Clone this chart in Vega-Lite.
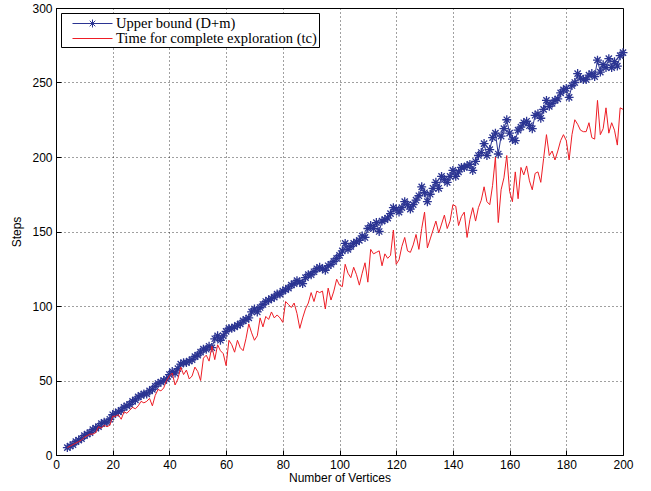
{
  "$schema": "https://vega.github.io/schema/vega-lite/v6.json",
  "width": 567,
  "height": 447,
  "autosize": {"type": "none"},
  "padding": {"left": 56, "top": 8, "right": 28, "bottom": 36},
  "background": "white",
  "config": {
    "view": {"stroke": "black", "strokeWidth": 1},
    "axis": {"labelFont": "Liberation Sans", "titleFont": "Liberation Sans", "labelFontSize": 12, "titleFontSize": 12, "titleFontWeight": "normal", "labelColor": "black", "titleColor": "black", "domainColor": "black", "tickColor": "black", "labelFlush": false, "labelOverlap": false}
  },
  "data": {"values": [
{"n":4,"ub":5,"tc":5},{"n":5,"ub":6,"tc":6},{"n":6,"ub":7,"tc":7},{"n":7,"ub":9,"tc":8},{"n":8,"ub":10,"tc":9},{"n":9,"ub":11,"tc":10},{"n":10,"ub":13,"tc":12},{"n":11,"ub":14,"tc":13},{"n":12,"ub":15,"tc":14},{"n":13,"ub":17,"tc":14},{"n":14,"ub":18,"tc":15},{"n":15,"ub":19,"tc":19},{"n":16,"ub":21,"tc":18},{"n":17,"ub":22,"tc":20},{"n":18,"ub":22,"tc":19},{"n":19,"ub":24,"tc":20},{"n":20,"ub":27,"tc":26},{"n":21,"ub":28,"tc":26},{"n":22,"ub":29,"tc":27},{"n":23,"ub":30,"tc":24},{"n":24,"ub":32,"tc":29},{"n":25,"ub":33,"tc":28},{"n":26,"ub":34,"tc":30},{"n":27,"ub":36,"tc":32},{"n":28,"ub":37,"tc":31},{"n":29,"ub":39,"tc":33},{"n":30,"ub":40,"tc":36},{"n":31,"ub":41,"tc":35},{"n":32,"ub":41,"tc":36},{"n":33,"ub":43,"tc":38},{"n":34,"ub":44,"tc":33},{"n":35,"ub":46,"tc":40},{"n":36,"ub":48,"tc":44},{"n":37,"ub":49,"tc":43},{"n":38,"ub":50,"tc":45},{"n":39,"ub":51,"tc":50},
{"n":40,"ub":54,"tc":53},{"n":41,"ub":56,"tc":55},{"n":42,"ub":55,"tc":47},{"n":43,"ub":58,"tc":51},{"n":44,"ub":61,"tc":59},{"n":45,"ub":62,"tc":54},{"n":46,"ub":62,"tc":57},{"n":47,"ub":63,"tc":51},{"n":48,"ub":64,"tc":53},{"n":49,"ub":66,"tc":59},{"n":50,"ub":67,"tc":56},{"n":51,"ub":69,"tc":50},{"n":52,"ub":71,"tc":65},{"n":53,"ub":71,"tc":67},{"n":54,"ub":73,"tc":63},{"n":55,"ub":72,"tc":73},{"n":56,"ub":78,"tc":64},{"n":57,"ub":80,"tc":74},{"n":58,"ub":77,"tc":70},{"n":59,"ub":80,"tc":68},{"n":60,"ub":83,"tc":60},{"n":61,"ub":85,"tc":77},{"n":62,"ub":85,"tc":74},{"n":63,"ub":86,"tc":69},{"n":64,"ub":87,"tc":77},{"n":65,"ub":88,"tc":72},{"n":66,"ub":90,"tc":70},{"n":67,"ub":91,"tc":78},{"n":68,"ub":92,"tc":88},{"n":69,"ub":96,"tc":82},{"n":70,"ub":98,"tc":77},{"n":71,"ub":96,"tc":80},{"n":72,"ub":99,"tc":92},{"n":73,"ub":101,"tc":86},{"n":74,"ub":103,"tc":93},{"n":75,"ub":104,"tc":91},{"n":76,"ub":105,"tc":96},{"n":77,"ub":106,"tc":92},{"n":78,"ub":108,"tc":94},{"n":79,"ub":108,"tc":92},
{"n":80,"ub":110,"tc":89},{"n":81,"ub":111,"tc":103},{"n":82,"ub":112,"tc":101},{"n":83,"ub":114,"tc":99},{"n":84,"ub":115,"tc":102},{"n":85,"ub":117,"tc":95},{"n":86,"ub":116,"tc":85},{"n":87,"ub":115,"tc":92},{"n":88,"ub":119,"tc":98},{"n":89,"ub":121,"tc":102},{"n":90,"ub":121,"tc":109},{"n":91,"ub":123,"tc":103},{"n":92,"ub":125,"tc":110},{"n":93,"ub":126,"tc":109},{"n":94,"ub":125,"tc":110},{"n":95,"ub":124,"tc":98},{"n":96,"ub":127,"tc":112},{"n":97,"ub":128,"tc":104},{"n":98,"ub":130,"tc":110},{"n":99,"ub":132,"tc":118},{"n":100,"ub":134,"tc":114},{"n":101,"ub":137,"tc":113},{"n":102,"ub":142,"tc":128},{"n":103,"ub":138,"tc":122},{"n":104,"ub":140,"tc":119},{"n":105,"ub":142,"tc":126},{"n":106,"ub":143,"tc":121},{"n":107,"ub":144,"tc":114},{"n":108,"ub":147,"tc":122},{"n":109,"ub":146,"tc":129},{"n":110,"ub":152,"tc":116},{"n":111,"ub":154,"tc":138},{"n":112,"ub":152,"tc":135},{"n":113,"ub":156,"tc":136},{"n":114,"ub":150,"tc":137},{"n":115,"ub":157,"tc":127},{"n":116,"ub":158,"tc":135},{"n":117,"ub":159,"tc":132},{"n":118,"ub":162,"tc":134},{"n":119,"ub":166,"tc":151},
{"n":120,"ub":165,"tc":128},{"n":121,"ub":163,"tc":131},{"n":122,"ub":166,"tc":140},{"n":123,"ub":170,"tc":146},{"n":124,"ub":168,"tc":137},{"n":125,"ub":165,"tc":136},{"n":126,"ub":168,"tc":141},{"n":127,"ub":171,"tc":148},{"n":128,"ub":174,"tc":138},{"n":129,"ub":180,"tc":152},{"n":130,"ub":176,"tc":163},{"n":131,"ub":170,"tc":139},{"n":132,"ub":175,"tc":145},{"n":133,"ub":179,"tc":151},{"n":134,"ub":183,"tc":157},{"n":135,"ub":179,"tc":149},{"n":136,"ub":187,"tc":155},{"n":137,"ub":185,"tc":161},{"n":138,"ub":183,"tc":152},{"n":139,"ub":187,"tc":157},{"n":140,"ub":191,"tc":168},{"n":141,"ub":187,"tc":167},{"n":142,"ub":190,"tc":154},{"n":143,"ub":193,"tc":160},{"n":144,"ub":193,"tc":163},{"n":145,"ub":194,"tc":146},{"n":146,"ub":195,"tc":158},{"n":147,"ub":191,"tc":166},{"n":148,"ub":197,"tc":157},{"n":149,"ub":201,"tc":166},{"n":150,"ub":203,"tc":171},{"n":151,"ub":209,"tc":180},{"n":152,"ub":201,"tc":170},{"n":153,"ub":205,"tc":168},{"n":154,"ub":213,"tc":181},{"n":155,"ub":216,"tc":200},{"n":156,"ub":202,"tc":156},{"n":157,"ub":214,"tc":178},{"n":158,"ub":219,"tc":186},{"n":159,"ub":225,"tc":201},
{"n":160,"ub":216,"tc":177},{"n":161,"ub":212,"tc":170},{"n":162,"ub":211,"tc":190},{"n":163,"ub":218,"tc":172},{"n":164,"ub":220,"tc":193},{"n":165,"ub":223,"tc":188},{"n":166,"ub":224,"tc":194},{"n":167,"ub":221,"tc":184},{"n":168,"ub":219,"tc":178},{"n":169,"ub":228,"tc":189},{"n":170,"ub":229,"tc":190},{"n":171,"ub":226,"tc":183},{"n":172,"ub":232,"tc":199},{"n":173,"ub":238,"tc":215},{"n":174,"ub":234,"tc":201},{"n":175,"ub":236,"tc":204},{"n":176,"ub":238,"tc":198},{"n":177,"ub":239,"tc":204},{"n":178,"ub":243,"tc":211},{"n":179,"ub":245,"tc":215},{"n":180,"ub":246,"tc":211},{"n":181,"ub":240,"tc":198},{"n":182,"ub":248,"tc":215},{"n":183,"ub":250,"tc":225},{"n":184,"ub":256,"tc":222},{"n":185,"ub":253,"tc":218},{"n":186,"ub":252,"tc":217},{"n":187,"ub":252,"tc":217},{"n":188,"ub":255,"tc":223},{"n":189,"ub":256,"tc":213},{"n":190,"ub":254,"tc":212},{"n":191,"ub":265,"tc":238},{"n":192,"ub":257,"tc":215},{"n":193,"ub":262,"tc":219},{"n":194,"ub":260,"tc":233},{"n":195,"ub":266,"tc":216},{"n":196,"ub":260,"tc":223},{"n":197,"ub":264,"tc":218},{"n":198,"ub":261,"tc":208},{"n":199,"ub":268,"tc":233},{"n":200,"ub":270,"tc":232}
  ]},
  "transform": [{"fold": ["ub", "tc"], "as": ["series", "steps"]}],
  "encoding": {
    "x": {"field": "n", "type": "quantitative", "scale": {"domain": [0, 200], "nice": false, "zero": false},
      "axis": {"title": "Number of Vertices", "values": [0,20,40,60,80,100,120,140,160,180,200], "tickSize": -5, "labelPadding": 9, "titlePadding": 2, "grid": true, "gridDash": [1, 3], "gridColor": "black", "gridOpacity": 0.75, "domain": true}},
    "y": {"field": "steps", "type": "quantitative", "scale": {"domain": [0, 300], "nice": false},
      "axis": {"title": "Steps", "values": [0,50,100,150,200,250,300], "tickSize": -5, "labelPadding": 9, "titlePadding": 8, "grid": true, "gridDash": [1, 3], "gridColor": "black", "gridOpacity": 0.75}},
    "color": {"field": "series", "type": "nominal",
      "scale": {"domain": ["ub", "tc"], "range": ["#2B3492", "#EE1D25"]},
      "legend": {"title": null, "orient": "top-left", "offset": 5, "padding": 2, "rowPadding": 0,
        "strokeColor": "black", "fillColor": "white", "cornerRadius": 0,
        "labelFont": "Liberation Serif", "labelFontSize": 14.5, "labelColor": "black", "labelOffset": 15, "labelLimit": 400,
        "symbolSize": 256, "symbolOffset": 21, "symbolStrokeWidth": 1, "symbolType": "stroke",
        "labelExpr": "datum.value == 'ub' ? 'Upper bound (D+m)' : 'Time for complete exploration (tc)'",
        "encode": {"symbols": {"update": {"shape": {"signal": "datum.value == 'ub' ? 'M-2.5,0L2.5,0M0,-0.5L0,0.5M-0.5,0L0.5,0M-0.35,-0.35L0.35,0.35M-0.35,0.35L0.35,-0.35' : 'M-2.5,0L2.5,0'"}, "fill": {"value": "transparent"}}}}}}
  },
  "layer": [
    {"transform": [{"filter": "datum.series == 'ub'"}], "mark": {"type": "line", "strokeWidth": 1}},
    {"transform": [{"filter": "datum.series == 'ub'"}], "mark": {"type": "point", "shape": "M0,-1L0,1M-1,0L1,0M-0.7,-0.7L0.7,0.7M-0.7,0.7L0.7,-0.7", "size": 80, "filled": false, "strokeWidth": 1.3, "opacity": 1}},
    {"transform": [{"filter": "datum.series == 'tc'"}], "mark": {"type": "line", "strokeWidth": 1}}
  ]
}
